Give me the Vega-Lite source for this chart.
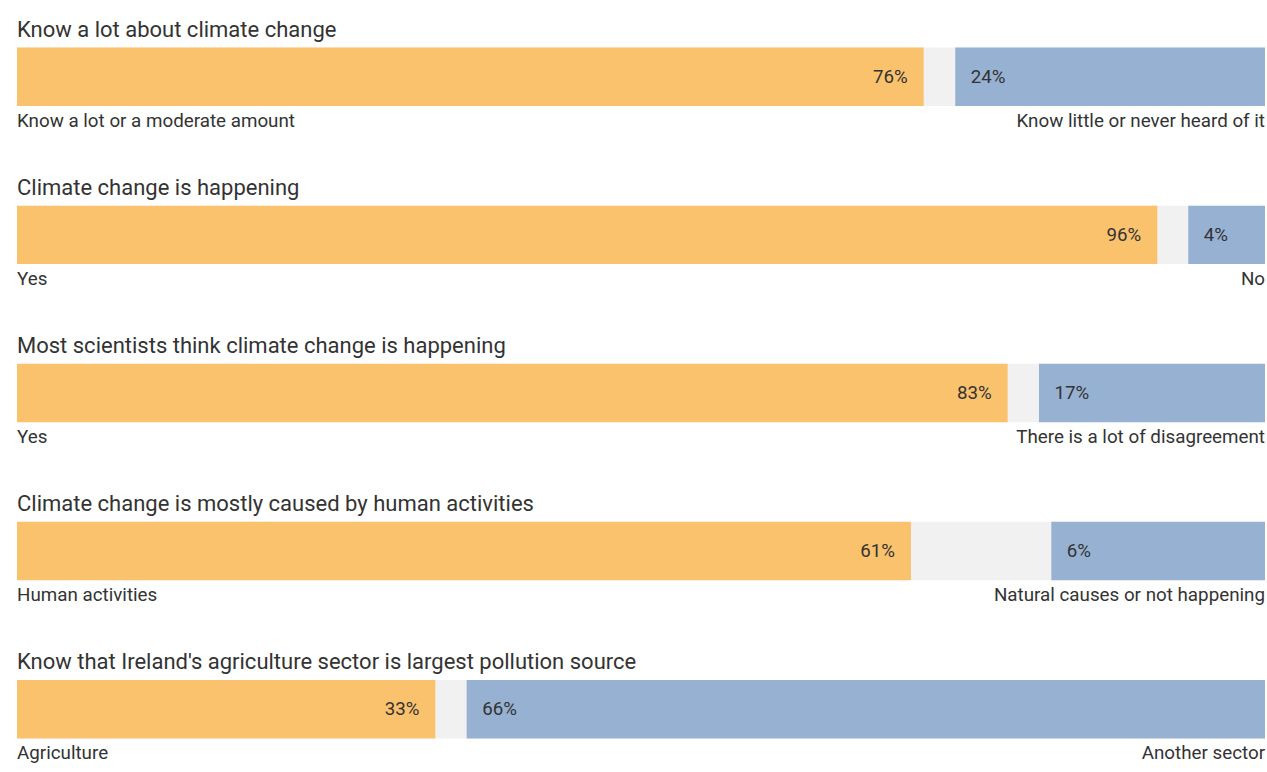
{
  "$schema": "https://vega.github.io/schema/vega-lite/v6.json",
  "width": 1248,
  "height": 772,
  "autosize": {"type": "pad"},
  "padding": {"left": 17, "right": 2, "top": 0, "bottom": 0},
  "background": "white",
  "config": {"view": {"stroke": null}, "font": "Roboto", "text": {"font": "Roboto"}},
  "data": {
    "values": [
      {"q": 1, "title": "Know a lot about climate change", "a_end": 72.65, "b_start": 75.18, "total": 100, "a_lab": "76%", "b_lab": "24%", "left": "Know a lot or a moderate amount", "right": "Know little or never heard of it"},
      {"q": 2, "title": "Climate change is happening", "a_end": 91.37, "b_start": 93.85, "total": 100, "a_lab": "96%", "b_lab": "4%", "left": "Yes", "right": "No"},
      {"q": 3, "title": "Most scientists think climate change is happening", "a_end": 79.38, "b_start": 81.89, "total": 100, "a_lab": "83%", "b_lab": "17%", "left": "Yes", "right": "There is a lot of disagreement"},
      {"q": 4, "title": "Climate change is mostly caused by human activities", "a_end": 71.63, "b_start": 82.88, "total": 100, "a_lab": "61%", "b_lab": "6%", "left": "Human activities", "right": "Natural causes or not happening"},
      {"q": 5, "title": "Know that Ireland's agriculture sector is largest pollution source", "a_end": 33.52, "b_start": 36.03, "total": 100, "a_lab": "33%", "b_lab": "66%", "left": "Agriculture", "right": "Another sector"}
    ]
  },
  "layer": [
    {
      "mark": {"type": "bar", "color": "#F1F1F1"},
      "encoding": {
        "y": {"field": "q", "type": "ordinal", "axis": null,
          "scale": {"paddingInner": 0.63, "paddingOuter": 0.2565, "align": 0.586}},
        "x": {"field": "total", "type": "quantitative", "scale": {"domain": [0, 100], "nice": false}, "axis": null}
      }
    },
    {
      "mark": {"type": "bar", "color": "#FBC26E"},
      "encoding": {
        "y": {"field": "q", "type": "ordinal"},
        "x": {"field": "a_end", "type": "quantitative"}
      }
    },
    {
      "mark": {"type": "bar", "color": "#97B1D2"},
      "encoding": {
        "y": {"field": "q", "type": "ordinal"},
        "x": {"field": "b_start", "type": "quantitative"},
        "x2": {"field": "total"}
      }
    },
    {
      "mark": {"type": "text", "align": "right", "baseline": "middle", "dx": -16, "fontSize": 18.7, "color": "#333333"},
      "encoding": {
        "y": {"field": "q", "type": "ordinal"},
        "x": {"field": "a_end", "type": "quantitative"},
        "text": {"field": "a_lab"}
      }
    },
    {
      "mark": {"type": "text", "align": "left", "baseline": "middle", "dx": 15.5, "fontSize": 18.7, "color": "#333333"},
      "encoding": {
        "y": {"field": "q", "type": "ordinal"},
        "x": {"field": "b_start", "type": "quantitative"},
        "text": {"field": "b_lab"}
      }
    },
    {
      "mark": {"type": "text", "align": "left", "baseline": "alphabetic", "dy": -40, "fontSize": 22, "color": "#333333"},
      "encoding": {
        "y": {"field": "q", "type": "ordinal"},
        "x": {"value": 0},
        "text": {"field": "title"}
      }
    },
    {
      "mark": {"type": "text", "align": "left", "baseline": "alphabetic", "dy": 50, "fontSize": 18.8, "color": "#333333"},
      "encoding": {
        "y": {"field": "q", "type": "ordinal"},
        "x": {"value": 0},
        "text": {"field": "left"}
      }
    },
    {
      "mark": {"type": "text", "align": "right", "baseline": "alphabetic", "dy": 50, "fontSize": 18.8, "color": "#333333"},
      "encoding": {
        "y": {"field": "q", "type": "ordinal"},
        "x": {"field": "total", "type": "quantitative"},
        "text": {"field": "right"}
      }
    }
  ]
}
